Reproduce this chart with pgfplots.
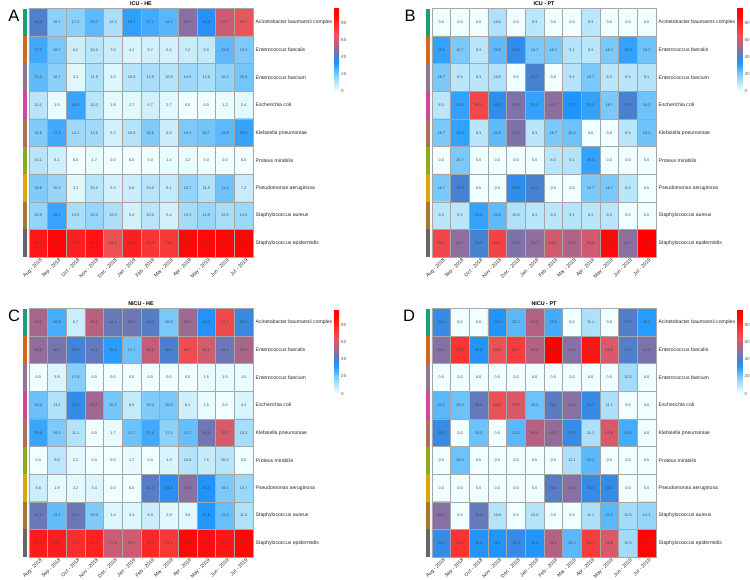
\documentclass[border=0pt]{standalone}
\usepackage{pgfplots}
\pgfplotsset{compat=1.18}
\usepackage{pgfplotstable}
\usepackage{fontspec}
\setmainfont{Liberation Sans}

\definecolor{s1}{RGB}{27,158,119}
\definecolor{s2}{RGB}{210,105,25}
\definecolor{s3}{RGB}{145,118,145}
\definecolor{s4}{RGB}{210,70,160}
\definecolor{s5}{RGB}{175,110,90}
\definecolor{s6}{RGB}{140,170,30}
\definecolor{s7}{RGB}{220,165,10}
\definecolor{s8}{RGB}{165,120,45}
\definecolor{s9}{RGB}{102,102,102}

% ICU - HE
\pgfplotstableread[row sep=\\]{
v\\
40.0\\16.7\\17.2\\23.7\\12.3\\29.7\\27.1\\24.3\\48.2\\33.3\\57.5\\62.7\\
27.5\\19.7\\6.2\\10.2\\7.0\\4.1\\5.7\\5.4\\7.2\\8.0\\23.6\\19.3\\
23.2\\16.7\\3.1\\11.9\\3.5\\10.8\\12.9\\10.8\\14.5\\12.6\\16.2\\20.5\\
10.1\\1.5\\28.6\\10.2\\1.8\\2.7\\5.7\\2.7\\0.0\\0.0\\1.2\\2.4\\
18.8\\27.3\\14.1\\13.6\\5.3\\10.8\\18.6\\6.8\\19.3\\20.7\\23.8\\28.9\\
10.1\\6.1\\0.0\\1.7\\0.0\\0.0\\0.0\\1.4\\1.2\\0.0\\0.0\\0.0\\
18.8\\15.2\\3.1\\10.2\\5.3\\6.8\\10.0\\8.1\\15.7\\11.5\\21.2\\7.2\\
15.9\\28.7\\12.5\\15.3\\12.3\\5.4\\10.0\\5.4\\13.3\\14.9\\12.5\\14.5\\
83.5\\90.4\\81.2\\84.7\\64.8\\81.1\\74.3\\73.0\\88.2\\88.0\\90.2\\91.6\\
}\tabA

% ICU - PT
\pgfplotstableread[row sep=\\]{
v\\
0.0\\0.0\\0.0\\10.0\\0.0\\8.3\\0.0\\0.0\\8.3\\0.0\\0.0\\0.0\\
25.0\\16.7\\8.3\\20.0\\30.0\\16.7\\16.7\\9.1\\8.3\\16.7\\25.0\\18.2\\
16.7\\8.3\\8.3\\10.0\\0.0\\33.3\\0.0\\9.1\\16.7\\8.3\\8.3\\9.1\\
8.3\\25.0\\58.3\\30.0\\40.0\\25.0\\41.7\\27.3\\25.0\\16.7\\33.3\\18.2\\
16.7\\25.0\\8.3\\20.0\\40.0\\8.3\\16.7\\18.2\\0.0\\0.0\\8.3\\18.2\\
0.0\\16.7\\0.0\\0.0\\0.0\\0.0\\8.3\\9.1\\25.0\\0.0\\0.0\\0.0\\
16.7\\33.3\\0.0\\0.0\\30.0\\33.3\\0.0\\0.0\\16.7\\16.7\\8.3\\0.0\\
8.3\\8.3\\25.0\\20.0\\10.0\\8.3\\8.3\\9.1\\8.3\\8.3\\0.0\\0.0\\
58.3\\41.7\\33.3\\60.0\\40.0\\41.7\\50.0\\45.5\\50.0\\75.0\\41.7\\81.8\\
}\tabB

% NICU - HE
\pgfplotstableread[row sep=\\]{
v\\
52.5\\26.8\\6.7\\55.2\\44.1\\45.0\\41.4\\20.0\\51.5\\33.3\\67.2\\36.8\\
50.0\\46.2\\38.8\\43.1\\30.8\\21.7\\56.9\\40.0\\66.7\\59.1\\44.8\\52.9\\
0.0\\3.8\\17.9\\0.0\\0.0\\0.0\\0.0\\0.0\\0.0\\1.5\\1.5\\1.5\\
22.0\\11.5\\35.8\\51.7\\20.3\\8.3\\19.0\\20.0\\6.1\\1.5\\0.0\\4.4\\
28.8\\19.2\\11.1\\0.0\\1.7\\21.7\\27.6\\17.1\\22.7\\45.5\\59.7\\13.2\\
0.0\\9.6\\2.2\\0.0\\0.0\\1.7\\0.0\\4.3\\10.6\\7.6\\10.4\\0.0\\
6.8\\1.9\\2.2\\3.4\\0.0\\0.0\\41.4\\34.3\\48.5\\33.3\\19.4\\14.7\\
44.1\\23.1\\44.4\\19.0\\3.4\\3.3\\6.9\\2.9\\3.0\\31.8\\22.4\\11.8\\
83.1\\82.2\\77.8\\81.0\\57.6\\58.3\\79.3\\74.3\\88.9\\87.0\\85.0\\91.2\\
}\tabC

% NICU - PT
\pgfplotstableread[row sep=\\]{
v\\
33.3\\0.0\\0.0\\30.0\\22.2\\50.0\\25.0\\0.0\\11.1\\0.0\\37.5\\28.6\\
44.4\\70.0\\30.8\\60.0\\66.7\\50.0\\88.9\\44.4\\77.8\\55.6\\37.5\\42.9\\
0.0\\0.0\\0.0\\0.0\\0.0\\0.0\\0.0\\0.0\\0.0\\0.0\\12.5\\0.0\\
22.2\\20.0\\40.0\\60.0\\55.6\\20.0\\38.5\\44.4\\33.3\\11.1\\0.0\\0.0\\
33.3\\0.0\\20.0\\0.0\\22.2\\50.0\\46.2\\33.3\\11.1\\55.6\\25.0\\0.0\\
0.0\\20.0\\0.0\\0.0\\0.0\\0.0\\0.0\\11.1\\22.2\\0.0\\0.0\\0.0\\
0.0\\0.0\\0.0\\0.0\\0.0\\0.0\\38.5\\44.4\\33.3\\33.3\\0.0\\0.0\\
44.4\\0.0\\40.0\\10.0\\0.0\\10.0\\0.0\\0.0\\11.1\\22.2\\12.5\\14.3\\
33.3\\70.0\\30.8\\30.0\\33.3\\30.0\\50.0\\22.2\\66.7\\55.6\\12.5\\85.7\\
}\tabD

\pgfplotsset{
  /pgf/number format/assume math mode=true,
  colormap={hm}{rgb255(0pt)=(240,255,255); rgb255(12pt)=(175,225,250);
    rgb255(22pt)=(110,195,250); rgb255(33pt)=(30,150,255); rgb255(40pt)=(70,130,210);
    rgb255(48pt)=(125,115,170); rgb255(57pt)=(190,95,125); rgb255(65pt)=(235,85,90);
    rgb255(78pt)=(250,50,50); rgb255(90pt)=(255,10,10); rgb255(100pt)=(255,0,0)},
  hm/.style={
    scale only axis, width=224pt, height=248.5pt,
    xmin=-0.5, xmax=11.5, ymin=-0.5, ymax=8.5, y dir=reverse,
    axis on top, clip=false, colormap name=hm, point meta min=0,
    xtick={0,...,11},
    xticklabels={Aug - 2018,Sep - 2018,Oct - 2018,Nov - 2018,Dec - 2018,Jan - 2019,Feb - 2019,Mar - 2019,Apr - 2019,May - 2019,Jun - 2019,Jul - 2019},
    ytick={0,...,8},
    yticklabels={Acinetobacter baumannii complex,Enterococcus faecalis,Enterococcus faecium,Escherichia coli,Klebsiella pneumoniae,Proteus mirabilis,Pseudomonas aeruginosa,Staphylococcus aureus,Staphylococcus epidermidis},
    yticklabel pos=right,
    minor xtick={0.5,1.5,...,10.5}, minor ytick={0.5,1.5,...,7.5},
    xminorgrids, yminorgrids,
    minor grid style={draw=black!35, line width=0.5pt},
    axis line style={draw=black!35, line width=0.5pt},
    major tick length=0pt, minor tick length=0pt, tick style={draw=none},
    xticklabel style={rotate=45, anchor=east, font=\fontsize{5}{5}\selectfont, text=black!85, inner sep=0.5pt, xshift=1pt, yshift=-4pt},
    yticklabel style={anchor=west, font=\fontsize{5.1}{5}\selectfont, text=black!85, inner sep=0pt, xshift=2.5pt},
    title style={at={(0.5,1)}, anchor=south, font=\bfseries\fontsize{5.4}{5.4}\selectfont, inner sep=0pt, yshift=-3.2pt},
  },
  cbaxis/.style={
    hide axis, scale only axis, width=5pt, height=84pt, anchor=south west,
    xmin=0, xmax=1, ymin=0, ymax=1,
    colormap name=hm, point meta min=0, point meta max=98,
    colorbar,
    colorbar style={
      at={(0,0)}, anchor=south west, xshift=0pt, yshift=0pt,
      width=5pt, height=84pt, scale only axis,
      ytick={0,20,40,60,80}, yticklabel pos=right,
      axis line style={draw=none}, major tick length=0pt, tick style={draw=none},
      yticklabel style={anchor=west, font=\fontsize{4.6}{5}\selectfont, text=black!65, inner sep=0pt, xshift=2pt},
    },
  },
  cellnums/.style={only marks, mark=none, point meta=explicit,
    nodes near coords={\pgfmathprintnumber[fixed,fixed zerofill,precision=1]{\pgfplotspointmeta}},
    nodes near coords align=center,
    every node near coord/.style={anchor=center, inner sep=0pt, font=\fontsize{3.8}{4}\selectfont, text=black!72}},
}

\newcommand\strips{%
  \fill[s1] ([xshift=-6.5pt]axis cs:-0.5,-0.5) rectangle ([xshift=-2.5pt]axis cs:-0.5,0.5);
  \fill[s2] ([xshift=-6.5pt]axis cs:-0.5,0.5) rectangle ([xshift=-2.5pt]axis cs:-0.5,1.5);
  \fill[s3] ([xshift=-6.5pt]axis cs:-0.5,1.5) rectangle ([xshift=-2.5pt]axis cs:-0.5,2.5);
  \fill[s4] ([xshift=-6.5pt]axis cs:-0.5,2.5) rectangle ([xshift=-2.5pt]axis cs:-0.5,3.5);
  \fill[s5] ([xshift=-6.5pt]axis cs:-0.5,3.5) rectangle ([xshift=-2.5pt]axis cs:-0.5,4.5);
  \fill[s6] ([xshift=-6.5pt]axis cs:-0.5,4.5) rectangle ([xshift=-2.5pt]axis cs:-0.5,5.5);
  \fill[s7] ([xshift=-6.5pt]axis cs:-0.5,5.5) rectangle ([xshift=-2.5pt]axis cs:-0.5,6.5);
  \fill[s8] ([xshift=-6.5pt]axis cs:-0.5,6.5) rectangle ([xshift=-2.5pt]axis cs:-0.5,7.5);
  \fill[s9] ([xshift=-6.5pt]axis cs:-0.5,7.5) rectangle ([xshift=-2.5pt]axis cs:-0.5,8.5);
}

\newcommand\hmplot[1]{%
  \addplot[matrix plot*, mesh/cols=12, point meta=explicit]
    table[x index=0, y index=0, x expr={mod(\coordindex,12)}, y expr={floor(\coordindex/12)}, meta=v]{#1};
  \addplot[cellnums]
    table[x index=0, y index=0, x expr={mod(\coordindex,12)}, y expr={floor(\coordindex/12)}, meta=v]{#1};
  \strips
}

\begin{document}
\begin{tikzpicture}[x=1pt,y=1pt]
\begin{axis}[hm, at={(29pt,322pt)}, anchor=south west, title={ICU - HE}, point meta max=97]
\hmplot{\tabA}
\end{axis}
\begin{axis}[hm, at={(432pt,322pt)}, anchor=south west, title={ICU - PT}, point meta max=83]
\hmplot{\tabB}
\end{axis}
\begin{axis}[hm, at={(29pt,22pt)}, anchor=south west, title={NICU - HE}, point meta max=98]
\hmplot{\tabC}
\end{axis}
\begin{axis}[hm, at={(432pt,22pt)}, anchor=south west, title={NICU - PT}, point meta max=90]
\hmplot{\tabD}
\end{axis}
% colour keys
\begin{axis}[cbaxis, at={(334pt,488pt)}]
\addplot[draw=none] coordinates {(0,0)};
\end{axis}
\begin{axis}[cbaxis, at={(737.3pt,488pt)}]
\addplot[draw=none] coordinates {(0,0)};
\end{axis}
\begin{axis}[cbaxis, at={(334pt,185.5pt)}]
\addplot[draw=none] coordinates {(0,0)};
\end{axis}
\begin{axis}[cbaxis, at={(737.3pt,185.5pt)}]
\addplot[draw=none] coordinates {(0,0)};
\end{axis}
\node[font=\fontsize{16.5}{16.5}\selectfont] at (14pt,563pt) {A};
\node[font=\fontsize{16.5}{16.5}\selectfont] at (410pt,563pt) {B};
\node[font=\fontsize{16.5}{16.5}\selectfont] at (14pt,263pt) {C};
\node[font=\fontsize{16.5}{16.5}\selectfont] at (409pt,263pt) {D};
\pgfresetboundingbox
\useasboundingbox (0,0) rectangle (750pt,579pt);
\end{tikzpicture}
\end{document}
